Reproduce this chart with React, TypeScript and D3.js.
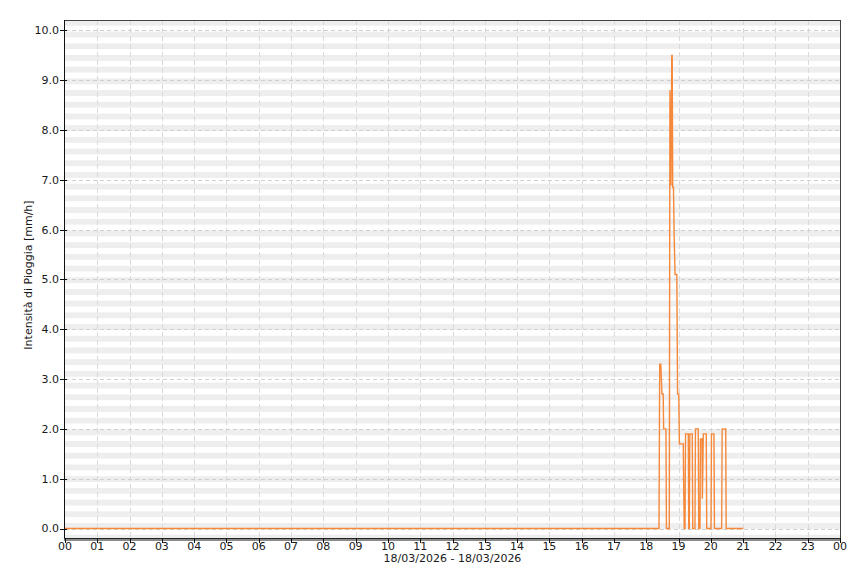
import React from "react";
import * as d3 from "d3";

const W = 860;
const H = 573;

const hourLabels = ["00","01","02","03","04","05","06","07","08","09","10","11","12","13","14","15","16","17","18","19","20","21","22","23","00"];
const yTickValues = [0, 1, 2, 3, 4, 5, 6, 7, 8, 9, 10];
const xAxisTitle = "18/03/2026 - 18/03/2026";
const yAxisTitle = "Intensità di Pioggia [mm/h]";

// minutes after midnight and rain intensity (mm/h)
const rainMinutes = [
  0, 1103.7, 1105, 1107, 1109.2, 1111.5, 1112.3, 1116.6, 1117.5, 1122.8,
  1124, 1125.2, 1126, 1127.4, 1128.2, 1129.2, 1130.6, 1131.8, 1133.5, 1136.8,
  1138.2, 1140.4, 1141.6, 1148.8, 1149.6, 1150.6, 1152, 1153, 1158.1, 1159,
  1160, 1161, 1165.5, 1166.4, 1170.5, 1171.4, 1176.6, 1177.5, 1179.8, 1180.7,
  1183.5, 1184.3, 1186, 1191.5, 1192.4, 1200.3, 1201.2, 1205.8, 1206.7, 1220.1,
  1221, 1227.6, 1228.5, 1260
];
const rainValues = [
  0, 0, 3.3, 3.3, 2.7, 2.7, 2.0, 2.0, 0, 0,
  8.8, 6.9, 6.9, 9.5, 9.5, 6.85, 6.85, 5.9, 5.1, 5.1,
  2.7, 2.7, 1.7, 1.7, 0.8, 0, 0, 1.9, 1.9, 0,
  0, 1.9, 1.9, 0, 0, 2.0, 2.0, 0, 0, 1.8,
  1.8, 0.6, 1.9, 1.9, 0, 0, 1.9, 1.9, 0, 0,
  2.0, 2.0, 0, 0
];

export default function App() {
  const left = 65, right = 840, top = 20, bottom = 538;
  const x = d3.scaleLinear().domain([0, 1440]).range([left, right]);
  const y = d3.scaleLinear().domain([-0.19, 10.21]).range([bottom, top]);

  const pts = rainMinutes.map((m, i) => [m, rainValues[i]] as [number, number]);
  const line = d3.line<[number, number]>().x(d => x(d[0])).y(d => y(d[1]));

  const stripePeriod = 11.7;
  const stripes: number[] = [];
  for (let s = 31.6 - stripePeriod * 2; s < bottom; s += stripePeriod) stripes.push(s);

  const font = "'DejaVu Sans', sans-serif";
  const textColor = "#1a1a1a";

  return (
    <svg width={W} height={H} style={{ position: "absolute", left: 0, top: 0, background: "#fff" }} fontFamily={font}>
      <defs>
        <clipPath id="plot">
          <rect x={left} y={top} width={right - left} height={bottom - top} />
        </clipPath>
      </defs>
      <rect x={0} y={0} width={W} height={H} fill="#fff" />
      <g clipPath="url(#plot)">
        {stripes.map((s, i) => (
          <rect key={i} x={left} y={s} width={right - left} height={stripePeriod / 2} fill="#eeeeee" />
        ))}
        {hourLabels.slice(1, -1).map((_, i) => (
          <line key={"v" + i} x1={Math.round(x((i + 1) * 60)) + 0.5} x2={Math.round(x((i + 1) * 60)) + 0.5} y1={top} y2={bottom}
            stroke="#dadada" strokeWidth={1} strokeDasharray="5,3" />
        ))}
        {yTickValues.map(v => (
          <line key={"h" + v} x1={left} x2={right} y1={Math.round(y(v)) + 0.5} y2={Math.round(y(v)) + 0.5}
            stroke="#cfcfcf" strokeWidth={1} strokeDasharray="4,3" />
        ))}
        <path d={line(pts) || ""} fill="none" stroke="#f5883a" strokeWidth={1.4} strokeLinejoin="miter" />
      </g>
      {/* borders */}
      <line x1={left} x2={right} y1={top + 0.5} y2={top + 0.5} stroke="#444" strokeWidth={1} />
      <line x1={right + 0.5} x2={right + 0.5} y1={top} y2={bottom} stroke="#444" strokeWidth={1} />
      {/* y axis */}
      <line x1={left - 0.5} x2={left - 0.5} y1={top} y2={bottom + 3} stroke="#111" strokeWidth={1} />
      {yTickValues.map(v => (
        <g key={"yt" + v}>
          <line x1={left - 5} x2={left + 2} y1={Math.round(y(v)) + 0.5} y2={Math.round(y(v)) + 0.5} stroke="#111" />
          <text x={left - 6} y={y(v)} dy="0.35em" textAnchor="end" fontSize={11} fill={textColor}>
            {v.toFixed(1)}
          </text>
        </g>
      ))}
      {/* x axis */}
      <rect x={left - 1} y={bottom} width={right - left + 2} height={1} fill="#222" />
      <rect x={left - 1} y={bottom + 1} width={right - left + 2} height={2} fill="#8a8a8a" />
      {hourLabels.map((lab, i) => (
        <g key={"xt" + i}>
          <line x1={Math.round(x(i * 60)) + 0.5} x2={Math.round(x(i * 60)) + 0.5} y1={bottom} y2={bottom + 5} stroke="#111" />
          <text x={x(i * 60)} y={bottom + 12} textAnchor="middle" fontSize={11} fill={textColor}>
            {lab}
          </text>
        </g>
      ))}
      <text x={(left + right) / 2} y={bottom + 24} textAnchor="middle" fontSize={11} fill={textColor}>
        {xAxisTitle}
      </text>
      <text transform={`translate(32,275) rotate(-90)`} textAnchor="middle" fontSize={11} fill={textColor}>
        {yAxisTitle}
      </text>
    </svg>
  );
}
